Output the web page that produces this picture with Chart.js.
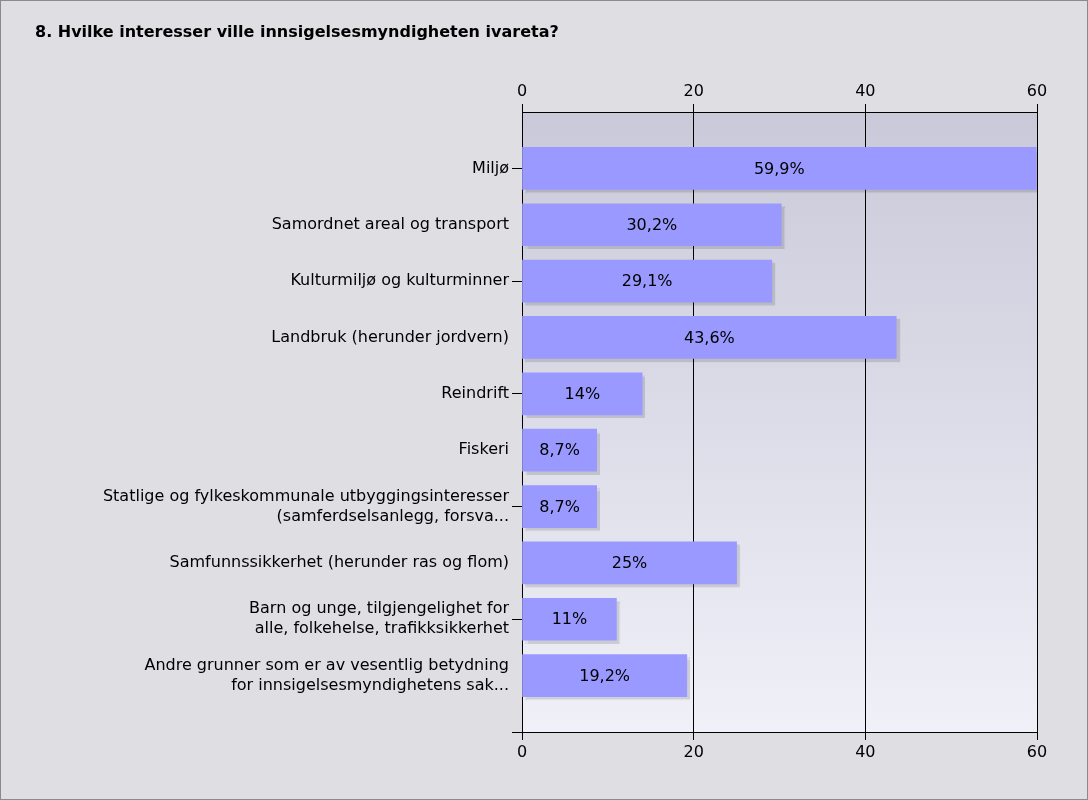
<!DOCTYPE html>
<html>
<head>
<meta charset="utf-8">
<script src="https://cdn.jsdelivr.net/npm/chart.js@4.4.1/dist/chart.umd.min.js"></script>
<style>
  html, body { margin: 0; padding: 0; background: #dfdee3; }
  #wrap { width: 1088px; height: 800px; position: relative; }
</style>
</head>
<body>
<div id="wrap"><canvas id="chart" width="1088" height="800"></canvas></div>
<script>
const title = "8. Hvilke interesser ville innsigelsesmyndigheten ivareta?";
const categories = [
  "Miljø",
  "Samordnet areal og transport",
  "Kulturmiljø og kulturminner",
  "Landbruk (herunder jordvern)",
  "Reindrift",
  "Fiskeri",
  ["Statlige og fylkeskommunale utbyggingsinteresser", "(samferdselsanlegg, forsva..."],
  "Samfunnssikkerhet (herunder ras og flom)",
  ["Barn og unge, tilgjengelighet for", "alle, folkehelse, trafikksikkerhet"],
  ["Andre grunner som er av vesentlig betydning", "for innsigelsesmyndighetens sak..."],
];
const values = [59.9, 30.2, 29.1, 43.6, 14, 8.7, 8.7, 25, 11, 19.2];
const xTicks = [0, 20, 40, 60];

const FONT = "'DejaVu Sans', Verdana, sans-serif";

// empty slot above and below the bars, like the original
const labels = [""].concat(categories, [""]);
const data = [null].concat(values, [null]);

const fmt = (v) => String(v).replace(".", ",") + "%";

const backdrop = {
  id: "backdrop",
  beforeDraw(chart) {
    const { ctx, chartArea: a } = chart;
    ctx.save();
    ctx.fillStyle = "#dfdee3";
    ctx.fillRect(0, 0, chart.width, chart.height);
    const g = ctx.createLinearGradient(0, a.top, 0, a.bottom);
    g.addColorStop(0, "#c9c9d9");
    g.addColorStop(1, "#f0f0f8");
    ctx.fillStyle = g;
    ctx.fillRect(a.left, a.top, a.right - a.left, a.bottom - a.top);
    ctx.restore();
  },
  afterDraw(chart) {
    const ctx = chart.ctx;
    ctx.save();
    ctx.fillStyle = "#000";
    ctx.font = "bold 16px " + FONT;
    ctx.textBaseline = "middle";
    ctx.fillText(title, 35, 33);
    ctx.strokeStyle = "#8a8a8a";
    ctx.lineWidth = 1;
    ctx.strokeRect(0.5, 0.5, chart.width - 1, chart.height - 1);
    ctx.restore();
  },
};

const barShadow = {
  id: "barShadow",
  beforeDatasetDraw(chart) {
    const ctx = chart.ctx;
    ctx.save();
    ctx.shadowColor = "rgba(0,0,0,0.13)";
    ctx.shadowOffsetX = 3;
    ctx.shadowOffsetY = 3;
    ctx.shadowBlur = 1;
  },
  afterDatasetDraw(chart) {
    chart.ctx.restore();
  },
};

const valueLabels = {
  id: "valueLabels",
  afterDatasetsDraw(chart) {
    const ctx = chart.ctx;
    const meta = chart.getDatasetMeta(0);
    ctx.save();
    ctx.font = "16px " + FONT;
    ctx.fillStyle = "#000";
    ctx.textAlign = "center";
    ctx.textBaseline = "middle";
    meta.data.forEach((bar, i) => {
      const v = data[i];
      if (v == null) return;
      ctx.fillText(fmt(v), (bar.x + bar.base) / 2, bar.y + 1);
    });
    ctx.restore();
  },
};

new Chart(document.getElementById("chart"), {
  type: "bar",
  data: {
    labels: labels,
    datasets: [
      {
        data: data,
        backgroundColor: "#9999ff",
        borderWidth: 0,
        barThickness: 42,
        xAxisID: "x",
      },
    ],
  },
  options: {
    indexAxis: "y",
    responsive: false,
    animation: false,
    layout: { padding: { left: 0, right: 51, top: 0, bottom: 0 } },
    plugins: {
      legend: { display: false },
      tooltip: { enabled: false },
      title: { display: false },
    },
    scales: {
      x: {
        position: "bottom",
        min: 0,
        max: 60,
        afterBuildTicks: (s) => { s.ticks = xTicks.map((v) => ({ value: v })); },
        afterFit: (s) => { s.height = 68; },
        grid: { color: "#000", lineWidth: 1, tickLength: 8 },
        border: { color: "#000" },
        ticks: { color: "#000", padding: 3, font: { family: FONT, size: 16 } },
      },
      x2: {
        position: "top",
        min: 0,
        max: 60,
        afterBuildTicks: (s) => { s.ticks = xTicks.map((v) => ({ value: v })); },
        afterFit: (s) => { s.height = 112; },
        grid: { color: "#000", lineWidth: 1, tickLength: 8, drawOnChartArea: false },
        border: { color: "#000" },
        ticks: { color: "#000", padding: 3, font: { family: FONT, size: 16 } },
      },
      y: {
        offset: false,
        afterFit: (s) => { s.width = 522; },
        grid: {
          offset: false,
          drawOnChartArea: false,
          tickLength: 10,
          color: (c) => (c.index % 2 === 1 ? "#000" : "rgba(0,0,0,0)"),
        },
        border: { color: "#000" },
        ticks: {
          autoSkip: false,
          color: "#000",
          padding: 3,
          font: { family: FONT, size: 16, lineHeight: 1.25 },
        },
      },
    },
  },
  plugins: [backdrop, barShadow, valueLabels],
});
</script>
</body>
</html>
